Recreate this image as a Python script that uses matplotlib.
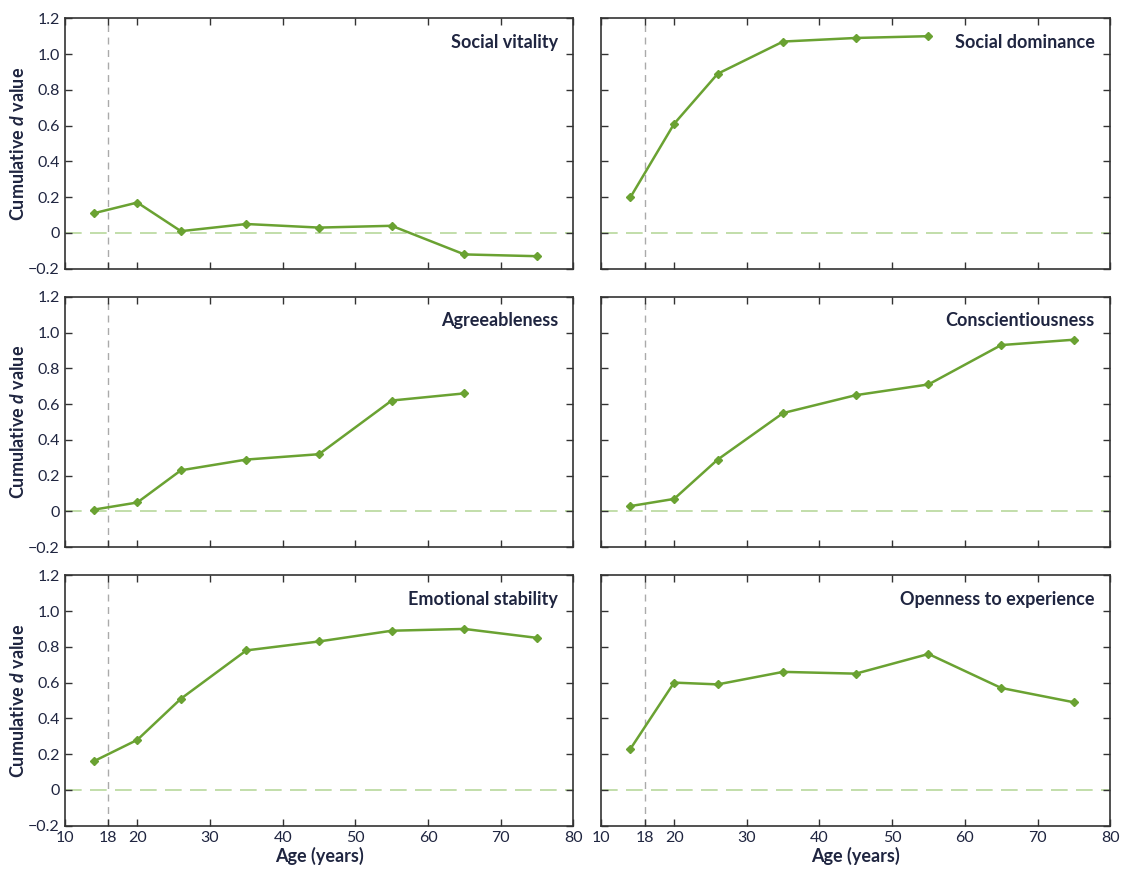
import matplotlib
matplotlib.use("Agg")
import matplotlib.pyplot as plt

# ages (group midpoints) and cumulative d values per trait
ages = [14, 20, 26, 35, 45, 55, 65, 75]

social_vitality = [0.11, 0.17, 0.01, 0.05, 0.03, 0.04, -0.12, -0.13]
social_dominance = [0.20, 0.61, 0.89, 1.07, 1.09, 1.10]
agreeableness = [0.01, 0.05, 0.23, 0.29, 0.32, 0.62, 0.66]
conscientiousness = [0.03, 0.07, 0.29, 0.55, 0.65, 0.71, 0.93, 0.96]
emotional_stability = [0.16, 0.28, 0.51, 0.78, 0.83, 0.89, 0.90, 0.85]
openness = [0.23, 0.60, 0.59, 0.66, 0.65, 0.76, 0.57, 0.49]

titles = ["Social vitality", "Social dominance", "Agreeableness",
          "Conscientiousness", "Emotional stability", "Openness to experience"]
series = [social_vitality, social_dominance, agreeableness,
          conscientiousness, emotional_stability, openness]

x_ticks = [10, 16, 20, 30, 40, 50, 60, 70, 80]
x_tick_labels = ["10", "18", "20", "30", "40", "50", "60", "70", "80"]
y_ticks = [-0.2, 0, 0.2, 0.4, 0.6, 0.8, 1.0, 1.2]
y_tick_labels = ["\u22120.2", "0", "0.2", "0.4", "0.6", "0.8", "1.0", "1.2"]
marker_line_x = 16  # dashed line drawn at the "18" label position

plt.rcParams["font.family"] = ["Lato", "DejaVu Sans"]
plt.rcParams["mathtext.fontset"] = "custom"
plt.rcParams["mathtext.it"] = "Lato:italic:bold"

text_col = "#1f2540"
green = "#6aa232"

fig, axes = plt.subplots(3, 2, figsize=(11.34, 8.71), dpi=100)
fig.subplots_adjust(left=0.057, right=0.979, bottom=0.052, top=0.979,
                    wspace=0.055, hspace=0.112)

for i, ax in enumerate(axes.flat):
    vals = series[i]
    ax.axhline(0, color="#b8d89c", lw=1.2, dashes=(10, 5), zorder=1)
    ax.axvline(marker_line_x, color="#aaaaaa", lw=1.0, dashes=(5, 4), zorder=1)
    ax.plot(ages[:len(vals)], vals, color=green, lw=1.8, marker="D",
            markersize=4.5, zorder=3)
    ax.set_xlim(10, 80)
    ax.set_ylim(-0.2, 1.2)
    ax.set_xticks(x_ticks)
    ax.set_yticks(y_ticks)
    ax.tick_params(direction="in", top=True, right=True, length=5,
                   width=1.0, colors="#333333", labelcolor=text_col,
                   labelsize=11.5)
    for sp in ax.spines.values():
        sp.set_color("#333333")
        sp.set_linewidth(1.2)
    ax.text(0.97, 0.905, titles[i], transform=ax.transAxes, ha="right",
            va="center", fontsize=13, fontweight="bold", color=text_col)

    row, col = divmod(i, 2)
    if col == 0:
        ax.set_yticklabels(y_tick_labels)
        ax.set_ylabel("Cumulative $d$ value", fontsize=13,
                      fontweight="bold", color=text_col, labelpad=1)
    else:
        ax.set_yticklabels([])
    if row == 2:
        ax.set_xticklabels(x_tick_labels)
        ax.set_xlabel("Age (years)", fontsize=13, fontweight="bold",
                      color=text_col, labelpad=2)
    else:
        ax.set_xticklabels([])

fig.savefig("out.png", dpi=100)
